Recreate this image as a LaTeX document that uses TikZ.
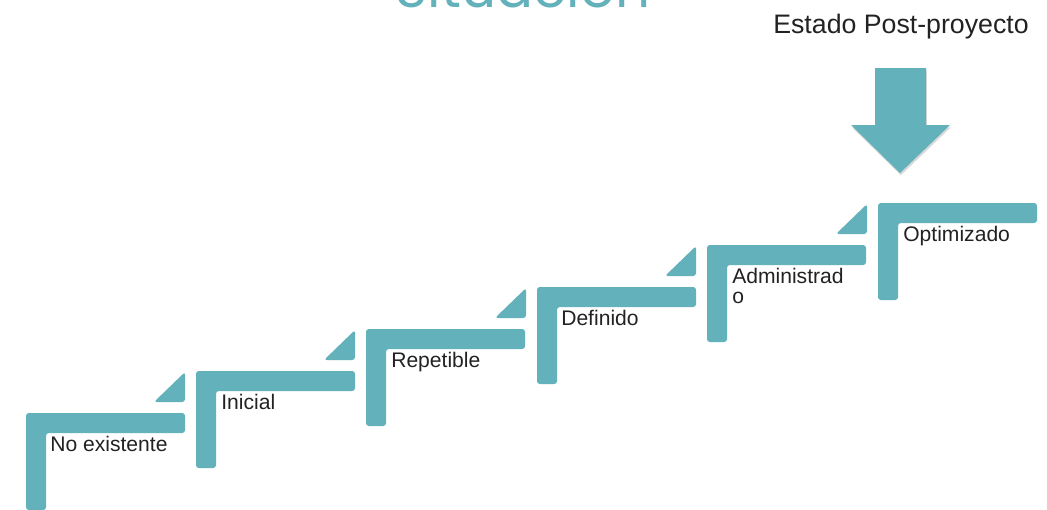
\documentclass[tikz,border=0pt]{standalone}
\usepackage{fontspec}
\setmainfont{Liberation Sans}
\newfontfamily\titlefont{Poppins}
\usetikzlibrary{shadows}

\definecolor{stairteal}{RGB}{99,177,187}
\definecolor{textgray}{RGB}{34,34,34}

\begin{document}
\begin{tikzpicture}[x=0.025cm, y=-0.025cm,
  bar/.style = {fill=stairteal, rounded corners=2pt},
  steptext/.style = {anchor=north west, inner sep=0pt, align=left,
    text=textgray, font=\fontsize{15}{14.5}\selectfont},
  pics/stair/.style = {code={
    \fill[bar] (0,0) -- (159,0) -- (159,20) -- (20,20) -- (20,97) -- (0,97) -- cycle;}},
  pics/wedge/.style = {code={
    \fill[bar] (-42,31) -- (-11,31) -- (-11,1) -- cycle;}}]
  \useasboundingbox (0,0) rectangle (1047,509);
  \clip (0,0) rectangle (1047,509);

  % title, cut off at the top
  \node[anchor=base, inner sep=0pt, text=stairteal,
    font=\titlefont\fontsize{39}{40}\selectfont] (title) at (523,7) {Situación};

  % steps
  \coordinate (s1) at (26,413);
  \coordinate (s2) at (196,371);
  \coordinate (s3) at (366,329);
  \coordinate (s4) at (537,287);
  \coordinate (s5) at (707,245);
  \coordinate (s6) at (878,203);

  \pic at (s1) {stair};
  \pic at (s2) {stair};
  \pic at (s3) {stair};
  \pic at (s4) {stair};
  \pic at (s5) {stair};
  \pic at (s6) {stair};

  \pic at (s2) {wedge};
  \pic at (s3) {wedge};
  \pic at (s4) {wedge};
  \pic at (s5) {wedge};
  \pic at (s6) {wedge};

  \node[steptext] (t1) at ([shift={(24,23)}]s1) {No existente};
  \node[steptext] (t2) at ([shift={(25,23)}]s2) {Inicial};
  \node[steptext] (t3) at ([shift={(25,23)}]s3) {Repetible};
  \node[steptext] (t4) at ([shift={(24,23)}]s4) {Definido};
  \node[steptext] (t5) at ([shift={(25,23)}]s5) {Administrad\\o};
  \node[steptext] (t6) at ([shift={(25,23)}]s6) {Optimizado};

  % post-project marker
  \node[anchor=base west, inner sep=0pt, text=textgray,
    font=\fontsize{19}{20}\selectfont] (post) at (773,33) {Estado Post-proyecto};
  \fill[stairteal, drop shadow={opacity=0.3, shadow xshift=0.6pt, shadow yshift=-1.6pt}]
    (875,68) -- (926,68) -- (926,125) -- (950,125) -- (900,173)
    -- (851,125) -- (875,125) -- cycle;
\end{tikzpicture}
\end{document}
